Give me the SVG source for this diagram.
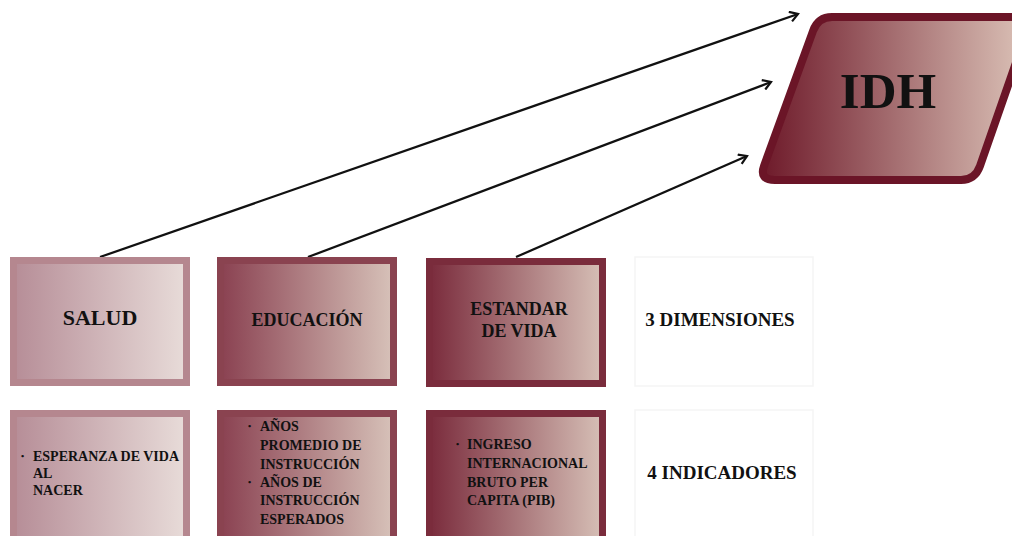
<svg xmlns="http://www.w3.org/2000/svg" width="1012" height="536" viewBox="0 0 1012 536">
<style>
text{font-family:"Liberation Serif","Times New Roman",serif;font-weight:bold;fill:#111}
.t{font-size:18px;text-anchor:middle}
.b{font-size:14px}
.d{font-size:9px}
.lbl{font-size:19px;text-anchor:middle}
.conn{stroke:#111;stroke-width:2.3;fill:none;marker-end:url(#ah)}
.plain{fill:#fff;stroke:#f5f5f5;stroke-width:1.5}
</style>
<defs>
<linearGradient id="g1" x1="0" x2="1" y1="0" y2="0"><stop offset="0" stop-color="#b68d97"/><stop offset="1" stop-color="#e8dcd9"/></linearGradient>
<linearGradient id="g2" x1="0" x2="1" y1="0" y2="0"><stop offset="0" stop-color="#8a4151"/><stop offset="1" stop-color="#d7c2b9"/></linearGradient>
<linearGradient id="g3" x1="0" x2="1" y1="0" y2="0"><stop offset="0" stop-color="#7a2b3c"/><stop offset="1" stop-color="#d6bfb6"/></linearGradient>
<linearGradient id="g4" x1="0" x2="1" y1="0" y2="0"><stop offset="0" stop-color="#6e1a2a"/><stop offset="1" stop-color="#dcc3b8"/></linearGradient>
<marker id="ah" viewBox="0 0 12 12" refX="10" refY="6" markerWidth="12" markerHeight="12" markerUnits="userSpaceOnUse" orient="auto"><path d="M2,1 L10,6 L2,11" fill="none" stroke="#111" stroke-width="2.2"/></marker>
</defs>
<g id="connectors">
<line class="conn" x1="100" y1="257" x2="798" y2="14"/>
<line class="conn" x1="308" y1="257" x2="771" y2="82"/>
<line class="conn" x1="516" y1="257" x2="747" y2="156"/>
</g>
<g id="idh">
<path d="M832,17 L1018,17 Q1032,17 1027,31 L980,166 Q975,180 961,180 L775,180 Q759,180 764,166 L813,31 Q818,17 832,17 Z" fill="url(#g4)" stroke="#6b1527" stroke-width="8"/>
<text x="888" y="108" style="font-size:51px;text-anchor:middle">IDH</text>
</g>
<g id="salud">
<rect x="13.5" y="260.5" width="173" height="122" fill="url(#g1)" stroke="#b5878f" stroke-width="7"/>
<text class="t" x="100" y="325" style="font-size:22px">SALUD</text>
</g>
<g id="educacion">
<rect x="220.5" y="260.5" width="173" height="122" fill="url(#g2)" stroke="#8a4350" stroke-width="7"/>
<text class="t" x="307" y="326">EDUCACIÓN</text>
</g>
<g id="estandar">
<rect x="429.5" y="261.5" width="173" height="122" fill="url(#g3)" stroke="#7a2c3c" stroke-width="7"/>
<text class="t" x="519" y="315">ESTANDAR</text>
<text class="t" x="519" y="337">DE VIDA</text>
</g>
<g id="dimensiones">
<rect class="plain" x="635" y="257" width="178" height="129"/>
<text class="lbl" x="720" y="326">3 DIMENSIONES</text>
</g>
<g id="salud-ind">
<rect x="13.5" y="413.5" width="173" height="126" fill="url(#g1)" stroke="#b5878f" stroke-width="7"/>
<text class="d" x="21" y="459">•</text>
<text class="b" x="33" y="461">ESPERANZA DE VIDA</text>
<text class="b" x="33" y="478">AL</text>
<text class="b" x="33" y="495">NACER</text>
</g>
<g id="educacion-ind">
<rect x="220.5" y="413.5" width="173" height="126" fill="url(#g2)" stroke="#8a4350" stroke-width="7"/>
<text class="d" x="248" y="429">•</text>
<text class="b" x="260" y="431">AÑOS</text>
<text class="b" x="260" y="450">PROMEDIO DE</text>
<text class="b" x="260" y="469">INSTRUCCIÓN</text>
<text class="d" x="248" y="485">•</text>
<text class="b" x="260" y="487">AÑOS DE</text>
<text class="b" x="260" y="505">INSTRUCCIÓN</text>
<text class="b" x="260" y="524">ESPERADOS</text>
</g>
<g id="estandar-ind">
<rect x="429.5" y="413.5" width="173" height="126" fill="url(#g3)" stroke="#7a2c3c" stroke-width="7"/>
<text class="d" x="456" y="447">•</text>
<text class="b" x="467" y="449">INGRESO</text>
<text class="b" x="467" y="468">INTERNACIONAL</text>
<text class="b" x="467" y="487">BRUTO PER</text>
<text class="b" x="467" y="505">CAPITA (PIB)</text>
</g>
<g id="indicadores">
<rect class="plain" x="635" y="410" width="178" height="130"/>
<text class="lbl" x="722" y="479">4 INDICADORES</text>
</g>
</svg>
